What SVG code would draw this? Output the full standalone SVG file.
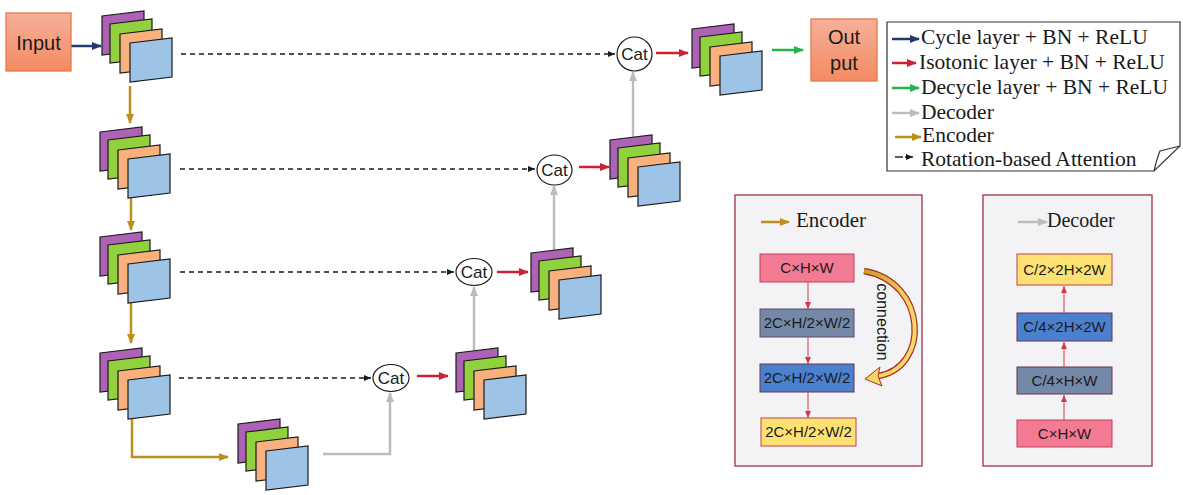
<svg xmlns="http://www.w3.org/2000/svg" xmlns:xlink="http://www.w3.org/1999/xlink" width="1183" height="495" viewBox="0 0 1183 495">
<style>
.sheet{stroke:#1a1a1a;stroke-width:1.2;stroke-linejoin:miter}
.p{fill:#ad62b6}.g{fill:#92d13e}.o{fill:#f8b07c}.b{fill:#9dc3e7}
.io{fill:url(#salmon);stroke:#e67a45;stroke-width:1.3}
.sans{font-family:"Liberation Sans",Arial,sans-serif;fill:#1a1a1a}
.serif{font-family:"Liberation Serif","Times New Roman",serif;fill:#1a1a1a}
.lg{font-size:21.5px}
.cat{fill:#fff;stroke:#1a1a1a;stroke-width:1.2}
.navy{stroke:#203a6e;stroke-width:2.5;fill:none}
.red{stroke:#cc2232;stroke-width:2.5;fill:none}
.grn{stroke:#25b24a;stroke-width:2.5;fill:none}
.gray{stroke:#bcbcbc;stroke-width:2.5;fill:none}
.gold{stroke:#bd8f1c;stroke-width:2.5;fill:none}
.dash{stroke:#1a1a1a;stroke-width:1.4;stroke-dasharray:5 4;fill:none}
.panel{fill:#f3f3f5;stroke:#a33040;stroke-width:1.3}
.thin{stroke:#d23a4a;stroke-width:1;fill:none}
</style>
<defs>
<linearGradient id="salmon" x1="0" y1="0" x2="0" y2="1">
<stop offset="0" stop-color="#f6b09a"/><stop offset="1" stop-color="#f48a62"/>
</linearGradient>
<linearGradient id="conn" x1="0" y1="0" x2="1" y2="1">
<stop offset="0" stop-color="#c99a2a"/><stop offset="0.5" stop-color="#f0cf5a"/><stop offset="1" stop-color="#f8e070"/>
</linearGradient>
<marker id="aNavy" markerUnits="userSpaceOnUse" markerWidth="10" markerHeight="10" refX="9" refY="5" orient="auto"><path d="M0,1 L10,5 L0,9 Z" fill="#203a6e"/></marker>
<marker id="aRed" markerUnits="userSpaceOnUse" markerWidth="10" markerHeight="10" refX="9" refY="5" orient="auto"><path d="M0,1 L10,5 L0,9 Z" fill="#cc2232"/></marker>
<marker id="aGrn" markerUnits="userSpaceOnUse" markerWidth="10" markerHeight="10" refX="9" refY="5" orient="auto"><path d="M0,1 L10,5 L0,9 Z" fill="#25b24a"/></marker>
<marker id="aGray" markerUnits="userSpaceOnUse" markerWidth="10" markerHeight="10" refX="9" refY="5" orient="auto"><path d="M0,1 L10,5 L0,9 Z" fill="#bcbcbc"/></marker>
<marker id="aGold" markerUnits="userSpaceOnUse" markerWidth="10" markerHeight="10" refX="9" refY="5" orient="auto"><path d="M0,1 L10,5 L0,9 Z" fill="#bd8f1c"/></marker>
<marker id="aBlk" markerUnits="userSpaceOnUse" markerWidth="8" markerHeight="8" refX="7" refY="4" orient="auto"><path d="M0,1 L7,4 L0,7 Z" fill="#1a1a1a"/></marker>
<marker id="aThin" markerUnits="userSpaceOnUse" markerWidth="8" markerHeight="8" refX="7" refY="4" orient="auto"><path d="M0,1 L7,4 L0,7 Z" fill="#d23a4a"/></marker>
<g id="stack">
<polygon class="sheet p" points="0,0 42,-5 42,34 0,39"/>
<polygon class="sheet g" points="8,8 50,3 50,42 8,47"/>
<polygon class="sheet o" points="18,18 60,13 60,52 18,57"/>
<polygon class="sheet b" points="28,27 70,22 70,61 28,66"/>
</g>
</defs>
<rect width="1183" height="495" fill="#fff"/>

<g id="connectors">
<line class="navy" x1="71" y1="46" x2="101" y2="46" marker-end="url(#aNavy)"/>
<line class="gold" x1="130" y1="86" x2="130" y2="123" marker-end="url(#aGold)"/>
<line class="gold" x1="131" y1="197" x2="131" y2="230" marker-end="url(#aGold)"/>
<line class="gold" x1="131" y1="303" x2="131" y2="343" marker-end="url(#aGold)"/>
<path class="gold" d="M132 419 V457 H228" marker-end="url(#aGold)"/>
<line class="dash" x1="181" y1="54" x2="615" y2="54" marker-end="url(#aBlk)"/>
<line class="dash" x1="180" y1="169" x2="535" y2="169" marker-end="url(#aBlk)"/>
<line class="dash" x1="180" y1="272" x2="454" y2="272" marker-end="url(#aBlk)"/>
<line class="dash" x1="179" y1="378" x2="371" y2="378" marker-end="url(#aBlk)"/>
<path class="gray" d="M323 454 H390 V393" marker-end="url(#aGray)"/>
<line class="gray" x1="474" y1="350" x2="474" y2="287" marker-end="url(#aGray)"/>
<line class="gray" x1="554" y1="250" x2="554" y2="186" marker-end="url(#aGray)"/>
<line class="gray" x1="633" y1="137" x2="633" y2="72" marker-end="url(#aGray)"/>
<line class="red" x1="417" y1="376" x2="448" y2="376" marker-end="url(#aRed)"/>
<line class="red" x1="497" y1="272" x2="528" y2="272" marker-end="url(#aRed)"/>
<line class="red" x1="579" y1="167" x2="609" y2="167" marker-end="url(#aRed)"/>
<line class="red" x1="656" y1="53" x2="688" y2="53" marker-end="url(#aRed)"/>
<line class="grn" x1="772" y1="50" x2="803" y2="50" marker-end="url(#aGrn)"/>
</g>

<g id="input"><rect class="io" x="6" y="13" width="65" height="58"/><text class="sans" x="38.5" y="50" font-size="20" text-anchor="middle">Input</text></g>
<g id="output"><rect class="io" x="811" y="19" width="66" height="62"/><text class="sans" x="844" y="44" font-size="20" text-anchor="middle">Out</text><text class="sans" x="844" y="70" font-size="20" text-anchor="middle">put</text></g>

<g id="s1"><use xlink:href="#stack" x="102" y="16"/></g>
<g id="s2"><use xlink:href="#stack" x="100" y="132"/></g>
<g id="s3"><use xlink:href="#stack" x="100" y="237"/></g>
<g id="s4"><use xlink:href="#stack" x="100" y="353"/></g>
<g id="s5"><use xlink:href="#stack" x="238" y="424"/></g>
<g id="s6"><use xlink:href="#stack" x="456" y="353"/></g>
<g id="s7"><use xlink:href="#stack" x="531" y="253"/></g>
<g id="s8"><use xlink:href="#stack" x="610" y="140"/></g>
<g id="s9"><use xlink:href="#stack" x="692" y="29"/></g>

<g id="cat1"><ellipse class="cat" cx="634.5" cy="54" rx="17.5" ry="17"/><text class="sans" x="634.5" y="60" font-size="17" text-anchor="middle">Cat</text></g>
<g id="cat2"><ellipse class="cat" cx="554.5" cy="170" rx="17.5" ry="15"/><text class="sans" x="554.5" y="176" font-size="17" text-anchor="middle">Cat</text></g>
<g id="cat3"><ellipse class="cat" cx="474" cy="272" rx="18" ry="13.5"/><text class="sans" x="474" y="278" font-size="17" text-anchor="middle">Cat</text></g>
<g id="cat4"><ellipse class="cat" cx="391" cy="378" rx="18" ry="13.5"/><text class="sans" x="391" y="384" font-size="17" text-anchor="middle">Cat</text></g>

<g id="legend">
<path d="M887 22 H1180 V146 L1154 171 H887 Z" fill="#fff" stroke="#333" stroke-width="1.2"/>
<path d="M1154 171 Q1157 158 1160 151 L1180 146" fill="none" stroke="#333" stroke-width="1.2"/>
<line class="navy" x1="892" y1="39" x2="919" y2="39" stroke-width="2.2" marker-end="url(#aNavy)"/>
<text class="serif lg" x="921" y="44">Cycle layer + BN + ReLU</text>
<line class="red" x1="892" y1="63" x2="916" y2="63" stroke-width="2.2" marker-end="url(#aRed)"/>
<text class="serif lg" x="919" y="69">Isotonic layer + BN + ReLU</text>
<line class="grn" x1="892" y1="88" x2="919" y2="88" stroke-width="2.2" marker-end="url(#aGrn)"/>
<text class="serif lg" x="921" y="94">Decycle layer + BN + ReLU</text>
<line class="gray" x1="892" y1="113" x2="919" y2="113" stroke-width="2.2" marker-end="url(#aGray)"/>
<text class="serif lg" x="921" y="119">Decoder</text>
<line class="gold" x1="895" y1="137" x2="921" y2="137" stroke-width="2.2" marker-end="url(#aGold)"/>
<text class="serif lg" x="922" y="142">Encoder</text>
<line x1="895" y1="157" x2="903" y2="157" stroke="#1a1a1a" stroke-width="1.4"/>
<line x1="905" y1="157" x2="913" y2="157" stroke="#1a1a1a" stroke-width="1.4" marker-end="url(#aBlk)"/>
<text class="serif lg" x="921" y="166">Rotation-based Attention</text>
</g>

<g id="encoder-panel">
<rect class="panel" x="735" y="195" width="187" height="271"/>
<line class="gold" x1="761" y1="222" x2="789" y2="222" stroke-width="2.2" marker-end="url(#aGold)"/>
<text class="serif" x="796" y="227" font-size="21">Encoder</text>
<rect x="760" y="254" width="94" height="28" fill="#f27a92" stroke="#c0405a"/>
<text class="sans" x="807" y="273" font-size="15" text-anchor="middle">C×H×W</text>
<rect x="760" y="309" width="94" height="28" fill="#7489a8" stroke="#5a4a70"/>
<text class="sans" x="807" y="328" font-size="15" text-anchor="middle">2C×H/2×W/2</text>
<rect x="760" y="364" width="94" height="28" fill="#4b80cf" stroke="#6a3050"/>
<text class="sans" x="807" y="383" font-size="15" text-anchor="middle">2C×H/2×W/2</text>
<rect x="761" y="418" width="95" height="28" fill="#fde172" stroke="#c04050"/>
<text class="sans" x="808.5" y="437" font-size="15" text-anchor="middle">2C×H/2×W/2</text>
<line class="thin" x1="808" y1="282" x2="808" y2="309" stroke="#e895a5" marker-end="url(#aThin)"/>
<line class="thin" x1="808" y1="337" x2="808" y2="364" stroke="#e895a5" marker-end="url(#aThin)"/>
<line class="thin" x1="808" y1="392" x2="808" y2="418" marker-end="url(#aThin)"/>
<path d="M864 271 C928 282, 930 368, 878 376" fill="none" stroke="#a8302a" stroke-width="6.5"/>
<path d="M864 271 C928 282, 930 368, 878 376" fill="none" stroke="url(#conn)" stroke-width="4"/>
<polygon points="865,379 880,367 878,376 882,386" fill="#f5d860" stroke="#a8302a" stroke-width="1"/>
<text class="sans" x="882" y="322" font-size="16" text-anchor="middle" transform="rotate(90 882 322)" dy="5">connection</text>
</g>

<g id="decoder-panel">
<rect class="panel" x="983" y="195" width="169" height="271"/>
<line class="gray" x1="1018" y1="222" x2="1047" y2="222" stroke-width="2.2" marker-end="url(#aGray)"/>
<text class="serif" x="1047" y="227" font-size="20">Decoder</text>
<rect x="1017" y="254" width="95" height="31" fill="#fde172" stroke="#c04050"/>
<text class="sans" x="1064.5" y="275" font-size="15" text-anchor="middle">C/2×2H×2W</text>
<rect x="1017" y="313" width="95" height="28" fill="#4b80cf" stroke="#6a3050"/>
<text class="sans" x="1064.5" y="332" font-size="15" text-anchor="middle">C/4×2H×2W</text>
<rect x="1017" y="367" width="95" height="27" fill="#7489a8" stroke="#6a3050"/>
<text class="sans" x="1064.5" y="386" font-size="15" text-anchor="middle">C/4×H×W</text>
<rect x="1017" y="420" width="95" height="27" fill="#f27a92" stroke="#c0405a"/>
<text class="sans" x="1064.5" y="439" font-size="15" text-anchor="middle">C×H×W</text>
<line class="thin" x1="1064" y1="420" x2="1064" y2="395" marker-end="url(#aThin)"/>
<line class="thin" x1="1064" y1="367" x2="1064" y2="342" marker-end="url(#aThin)"/>
<line class="thin" x1="1064" y1="313" x2="1064" y2="286" marker-end="url(#aThin)"/>
</g>
</svg>
